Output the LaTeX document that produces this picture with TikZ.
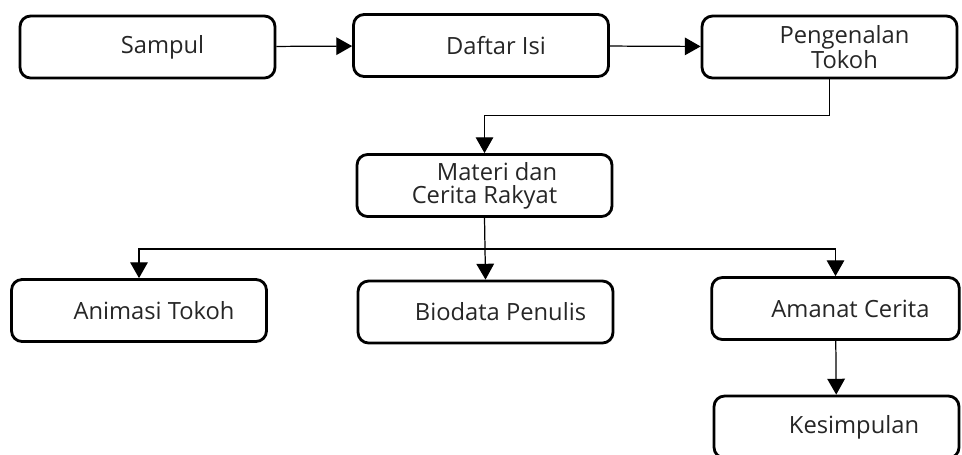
\documentclass[tikz,border=0pt]{standalone}
\usepackage{fontspec}
\setmainfont{Open Sans}
\usetikzlibrary{positioning}
\usetikzlibrary{arrows.meta}

\begin{document}
\begin{tikzpicture} [x=0.02cm, y=-0.02cm,
            box/.style={draw=black, line width=1.6pt, rounded corners=6pt,
                        minimum width=5.1cm, minimum height=1.24cm, text=black!85},
            conn/.style={-{Triangle[length=9pt,width=10pt]}, line width=0.7pt, black},
         every node/.append style={align=center, font=\fontsize{13.5}{13}\selectfont}]

% frame of the page
\useasboundingbox (0,0) rectangle (962,454);
\clip (0,0) rectangle (962,454);

%top row
\node (sampul) at (147.5,47) [box] {\hspace*{6mm}Sampul};
\node (daftar) at (481,45.5) [box] {\hspace*{6mm}Daftar Isi};
\node (tokoh) at (829.5,47) [box] {\hspace*{6mm}Pengenalan\\\hspace*{6mm}Tokoh};
\draw [conn] (sampul) -- (daftar);
\draw [conn] (daftar) -- (tokoh);

%materi
\node (materi) at (484.5,185.5) [box, align=right] {Materi dan\\Cerita Rakyat};
\draw [conn] (tokoh.south) -- ++(0,36) -| (materi.north);

%bottom row
\node (animasi) at (139,310.5) [box] {\hspace*{6mm}Animasi Tokoh};
\node (biodata) at (485.5,312) [box] {\hspace*{6mm}Biodata Penulis};
\node (amanat) at (835.5,308.5) [box, minimum width=4.95cm] {\hspace*{6mm}Amanat Cerita};
\coordinate (split) at (484.5,249);
\draw [conn] (materi.south) -- (biodata.north);
\draw [conn] (split) -| (animasi.north);
\draw [conn] (split) -| (amanat.north);

%kesimpulan
\node (kesimpulan) at (836.5,427) [box, minimum width=4.9cm] {\hspace*{7mm}Kesimpulan};
\draw [conn] (amanat) -- (kesimpulan);

\end{tikzpicture}
\end{document}
